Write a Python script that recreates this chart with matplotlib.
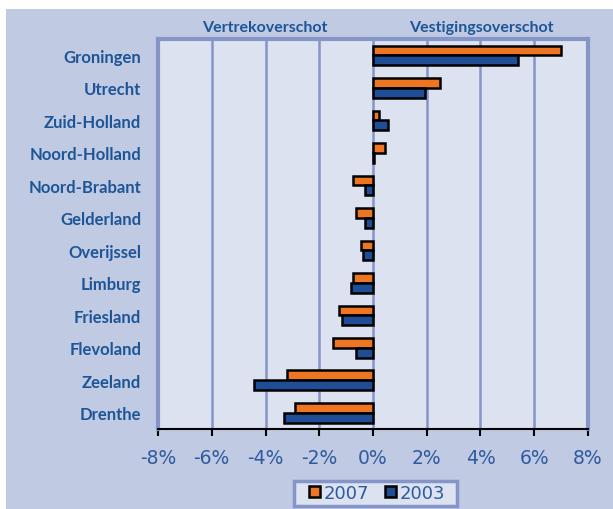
import matplotlib
matplotlib.use("Agg")
import matplotlib.pyplot as plt
from matplotlib.patches import Rectangle
from matplotlib.ticker import FuncFormatter

provincies = ["Groningen", "Utrecht", "Zuid-Holland", "Noord-Holland", "Noord-Brabant",
              "Gelderland", "Overijssel", "Limburg", "Friesland", "Flevoland",
              "Zeeland", "Drenthe"]
waarden_2007 = [7.0, 2.5, 0.22, 0.45, -0.73, -0.65, -0.45, -0.73, -1.26, -1.48, -3.2, -2.9]
waarden_2003 = [5.4, 1.92, 0.55, 0.03, -0.3, -0.3, -0.38, -0.8, -1.15, -0.63, -4.44, -3.3]
xticks = [-8, -6, -4, -2, 0, 2, 4, 6, 8]

oranje = "#ee7623"
blauw = "#1f4e96"
tekst = "#1d5596"
rand = "#8595c8"
paneel = "#c0cae2"
vlak = "#dce2f0"
lettertype = ["Lato", "DejaVu Sans"]

fig = plt.figure(figsize=(6.13, 5.10), dpi=100, facecolor="white")
fig.patches.append(Rectangle((6 / 613, 0), 1, 1 - 10 / 510, transform=fig.transFigure,
                             facecolor=paneel, edgecolor="none", zorder=-10))

ax = fig.add_axes([158 / 613, 1 - 430 / 510, 430 / 613, 390 / 510])
ax.set_facecolor(vlak)

y = list(range(len(provincies)))
h = 0.3
ax.barh([i - h / 2 for i in y], waarden_2007, height=h, color=oranje,
        edgecolor="black", linewidth=1.8, label="2007", zorder=3)
ax.barh([i + h / 2 for i in y], waarden_2003, height=h, color=blauw,
        edgecolor="black", linewidth=1.8, label="2003", zorder=3)

ax.set_xlim(-8, 8)
ax.set_ylim(len(provincies) - 0.5, -0.5)
ax.set_xticks(xticks)
ax.xaxis.set_major_formatter(FuncFormatter(lambda v, p: f"{v:.0f}%"))
ax.grid(axis="x", color=rand, linewidth=1.8, zorder=1)
ax.set_axisbelow(True)

ax.set_yticks(y)
ax.set_yticklabels(provincies, fontsize=12, fontweight="bold", color=tekst,
                   family=lettertype)
ax.tick_params(axis="y", length=0, pad=12)
ax.tick_params(axis="x", colors="black", labelcolor="#2e5aa0", labelsize=13.5,
               length=5, width=1.5, direction="out", pad=9)

for s in ["top", "left", "right"]:
    ax.spines[s].set_color(rand)
    ax.spines[s].set_linewidth(3)
ax.spines["bottom"].set_color("black")
ax.spines["bottom"].set_linewidth(1.5)

fig.text(265 / 613, 1 - 32 / 510, "Vertrekoverschot", ha="center", va="baseline",
         fontsize=11.5, fontweight="bold", color=tekst, family=lettertype)
fig.text(481 / 613, 1 - 32 / 510, "Vestigingsoverschot", ha="center", va="baseline",
         fontsize=11.5, fontweight="bold", color=tekst, family=lettertype)

# legend frame drawn separately, the box is wider than the entries
fig.patches.append(Rectangle((294 / 613, 1 - 507 / 510), 163 / 613, 25 / 510,
                             transform=fig.transFigure, facecolor=vlak,
                             edgecolor=rand, linewidth=2.5, zorder=-5))
leg = fig.legend(loc="center", bbox_to_anchor=(377 / 613, 1 - 494 / 510), ncol=2,
                 fontsize=13, frameon=False, handlelength=0.6,
                 handleheight=0.6, handletextpad=0.2, columnspacing=0.9,
                 borderpad=0.1)
for t in leg.get_texts():
    t.set_color("#2e5aa0")

fig.savefig("out.png", dpi=100, facecolor=fig.get_facecolor())
